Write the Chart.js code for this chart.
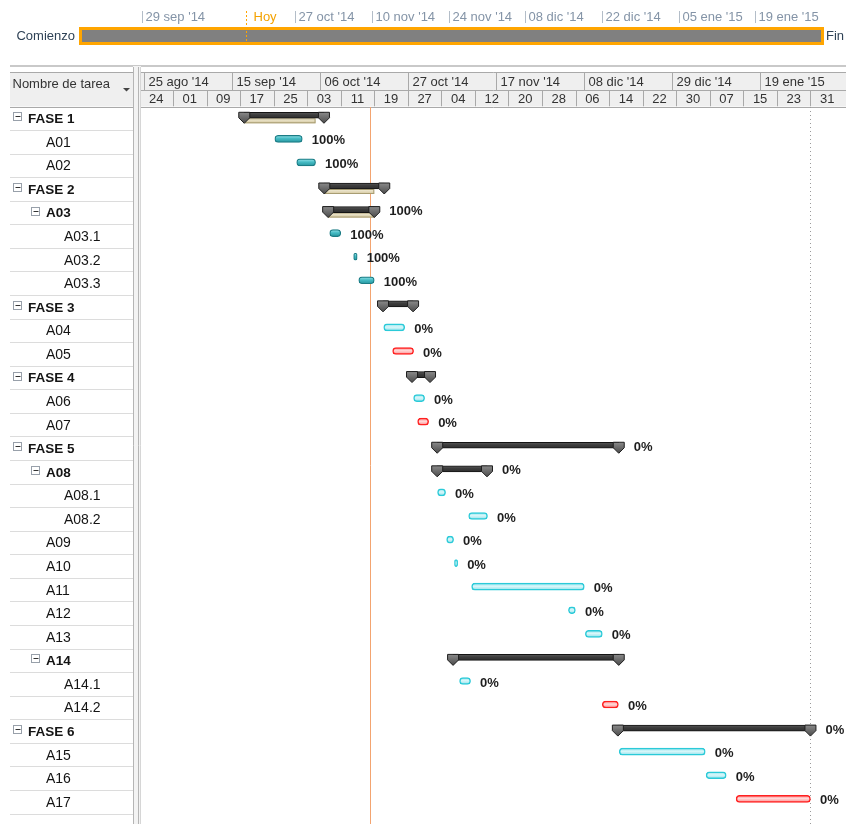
<!DOCTYPE html>
<html>
<head>
<meta charset="utf-8">
<script src="https://cdn.jsdelivr.net/npm/chart.js@4.4.1/dist/chart.umd.min.js"></script>
<style>
  html, body { margin: 0; padding: 0; background: #fff; width: 846px; height: 824px; overflow: hidden; }
  #timeline { position: absolute; left: 0; top: 0; }
  #gantt { position: absolute; left: 0; top: 56px; }
</style>
</head>
<body>
<canvas id="timeline" width="846" height="56"></canvas>
<canvas id="gantt" width="846" height="768"></canvas>
<script>
// ---- Project data ----
const tasks = ['FASE 1','A01','A02','FASE 2','A03','A03.1','A03.2','A03.3','FASE 3','A04','A05',
  'FASE 4','A06','A07','FASE 5','A08','A08.1','A08.2','A09','A10','A11','A12','A13','A14','A14.1',
  'A14.2','FASE 6','A15','A16','A17'];
const levels = [0,1,1,0,1,2,2,2,0,1,1,0,1,1,0,1,2,2,1,1,1,1,1,1,2,2,0,1,1,1];
const isSummary = [true,false,false,true,true,false,false,false,true,false,false,true,false,false,
  true,true,false,false,false,false,false,false,false,true,false,false,true,false,false,false];
const starts = ['2014-09-18T00:00','2014-09-25T07:00','2014-09-30T12:00','2014-10-07T02:00',
  '2014-10-08T00:00','2014-10-08T09:00','2014-10-14T02:00','2014-10-15T07:00','2014-10-21T02:00',
  '2014-10-21T06:00','2014-10-23T09:00','2014-10-28T00:00','2014-10-28T09:00','2014-10-29T08:00',
  '2014-11-03T00:00','2014-11-03T00:00','2014-11-03T02:00','2014-11-10T12:00','2014-11-05T06:00',
  '2014-11-07T03:00','2014-11-11T05:00','2014-12-04T07:00','2014-12-08T08:00','2014-11-06T19:00',
  '2014-11-08T08:00','2014-12-12T09:00','2014-12-16T02:00','2014-12-16T10:00','2015-01-06T03:00',
  '2015-01-13T07:00'];
const ends = ['2014-10-07T00:00','2014-10-01T20:00','2014-10-05T00:00','2014-10-21T09:00',
  '2014-10-19T00:00','2014-10-11T00:00','2014-10-14T22:00','2014-10-19T00:00','2014-10-28T06:00',
  '2014-10-26T06:00','2014-10-28T09:00','2014-11-01T07:00','2014-10-31T00:00','2014-10-31T23:00',
  '2014-12-16T07:00','2014-11-14T21:00','2014-11-05T00:00','2014-11-15T00:00','2014-11-06T22:00',
  '2014-11-07T21:00','2014-12-08T02:00','2014-12-05T23:00','2014-12-12T09:00','2014-12-16T07:00',
  '2014-11-10T23:00','2014-12-16T05:00','2015-01-31T00:00','2015-01-05T22:00','2015-01-10T22:00',
  '2015-01-31T00:00'];
// Summary rows: work completed through this date
const completedThrough = ['2014-10-05T00:00',null,null,'2014-10-19T00:00','2014-10-19T00:00',
  null,null,null,null,null,null,null,null,null,null,null,null,null,null,null,null,null,null,null,
  null,null,null,null,null,null];
// Percent complete shown next to the bar (null = not shown)
const percentDone = [null,100,100,null,100,100,100,100,null,0,0,null,0,0,0,0,0,0,0,0,0,0,0,null,
  0,0,0,0,0,0];
const critical = [false,false,false,false,false,false,false,false,false,false,true,false,false,true,
  false,false,false,false,false,false,false,false,false,false,false,true,false,false,false,true];

const today = '2014-10-18T00:00';
const viewStart = '2014-08-24T09:00';
const viewEnd = '2015-02-08T11:30';

// Timescale header
const upperTierDates = ['2014-08-25','2014-09-15','2014-10-06','2014-10-27','2014-11-17',
  '2014-12-08','2014-12-29','2015-01-19'];
const upperTierLabels = ["25 ago '14","15 sep '14","06 oct '14","27 oct '14","17 nov '14",
  "08 dic '14","29 dic '14","19 ene '15"];
const lowerTierFirst = '2014-08-24';
const lowerTierStepDays = 8;
const lowerTierLabels = ['24','01','09','17','25','03','11','19','27','04','12','20','28','06',
  '14','22','30','07','15','23','31'];

// Overview timeline ticks
const timelineTickDates = ['2014-09-29','2014-10-27','2014-11-10','2014-11-24','2014-12-08',
  '2014-12-22','2015-01-05','2015-01-19'];
const timelineTickLabels = ["29 sep '14","27 oct '14","10 nov '14","24 nov '14","08 dic '14",
  "22 dic '14","05 ene '15","19 ene '15"];

// ---- Helpers ----
function T(s) {
  const [d, h = '00:00'] = s.split('T');
  const [Y, M, D] = d.split('-').map(Number);
  const [hh, mm] = h.split(':').map(Number);
  return Date.UTC(Y, M - 1, D, hh, mm);
}
const DAY = 86400000;
const FONT = '"Liberation Sans", Arial, sans-serif';
Chart.defaults.font.family = FONT;

const projectStart = Math.min(...starts.map(T));
const projectFinish = Math.max(...ends.map(T));

function series(pred) {
  return tasks.map((_, i) => pred(i) ? [T(starts[i]), T(ends[i])] : null);
}

function barGradient(stops, half) {
  return (c) => {
    const ys = c.chart.scales.y;
    if (c.type !== 'data' || !ys) return stops[1];
    const cy = ys.getPixelForValue(c.dataIndex);
    if (!isFinite(cy)) return stops[1];
    const g = c.chart.ctx.createLinearGradient(0, cy - half, 0, cy + half);
    g.addColorStop(0, stops[0]);
    g.addColorStop(0.45, stops[1]);
    g.addColorStop(1, stops[2]);
    return g;
  };
}

// ---- Overview timeline ----
const timelinePlugin = {
  id: 'timelineDecor',
  beforeDraw(chart) {
    const ctx = chart.ctx;
    ctx.save();
    ctx.fillStyle = '#fff';
    ctx.fillRect(0, 0, chart.width, chart.height);
    ctx.restore();
  },
  afterDatasetsDraw(chart) {
    const { ctx, scales: { x } } = chart;
    const el = chart.getDatasetMeta(0).data[0];
    const p = el.getProps(['x', 'base', 'y', 'height'], true);
    ctx.save();
    ctx.strokeStyle = '#ffa500';
    ctx.lineWidth = 3;
    ctx.strokeRect(p.base - 1.5, p.y - p.height / 2 - 1.5, p.x - p.base + 3, p.height + 3);

    ctx.font = '13px ' + FONT;
    ctx.textBaseline = 'middle';
    timelineTickDates.forEach((d, i) => {
      const px = Math.round(x.getPixelForValue(T(d))) + 0.5;
      ctx.strokeStyle = '#b3bdc8';
      ctx.lineWidth = 1;
      ctx.beginPath(); ctx.moveTo(px, 11); ctx.lineTo(px, 23); ctx.stroke();
      ctx.fillStyle = '#8494a7';
      ctx.textAlign = 'left';
      ctx.fillText(timelineTickLabels[i], px + 3, 17.5);
    });

    const tx = Math.round(x.getPixelForValue(T(today))) + 0.5;
    ctx.strokeStyle = '#ffa500';
    ctx.setLineDash([2, 2]);
    ctx.beginPath(); ctx.moveTo(tx, 11); ctx.lineTo(tx, 44); ctx.stroke();
    ctx.setLineDash([]);
    ctx.fillStyle = '#f4a200';
    ctx.fillText('Hoy', tx + 7, 17.5);

    ctx.fillStyle = '#2f4256';
    ctx.textAlign = 'right';
    ctx.fillText('Comienzo', 75, 36);
    ctx.textAlign = 'left';
    ctx.fillText('Fin', 826, 36);
    ctx.restore();
  }
};

new Chart(document.getElementById('timeline'), {
  type: 'bar',
  data: {
    labels: ['Proyecto'],
    datasets: [{
      data: [[projectStart, projectFinish]],
      backgroundColor: '#808080',
      borderWidth: 0,
      barThickness: 12
    }]
  },
  options: {
    indexAxis: 'y',
    responsive: false,
    animation: false,
    devicePixelRatio: 1,
    events: [],
    layout: { padding: { left: 82, right: 25, top: 24, bottom: 8 } },
    plugins: { legend: { display: false }, tooltip: { enabled: false } },
    scales: {
      x: { type: 'linear', min: projectStart, max: projectFinish, display: false },
      y: { display: false }
    }
  },
  plugins: [timelinePlugin]
});

// ---- Gantt view ----
const PAGE_TOP = 56;
const py = v => v - PAGE_TOP;
const ROW_SHIFT = 3;   // bars sit slightly above the row's middle

const ganttPlugin = {
  id: 'ganttDecor',
  beforeDraw(chart) {
    const { ctx, scales: { x, y } } = chart;
    const W = chart.width, H = chart.height;
    const rowH = (y.bottom - y.top) / tasks.length;
    const hTop = py(72), hMid = py(90), hBot = py(106.5);
    ctx.save();
    ctx.fillStyle = '#fff';
    ctx.fillRect(0, 0, W, H);

    // view separator
    ctx.fillStyle = '#c9c9c9';
    ctx.fillRect(10, py(65), W - 10, 2);

    // timescale header
    ctx.fillStyle = '#efefef';
    ctx.fillRect(141, hTop, W - 141, hBot - hTop);
    ctx.strokeStyle = '#a9a9a9';
    ctx.lineWidth = 1;
    [hTop, hMid, hBot].forEach(v => {
      ctx.beginPath(); ctx.moveTo(141, Math.round(v) + 0.5); ctx.lineTo(W, Math.round(v) + 0.5); ctx.stroke();
    });
    ctx.save();
    ctx.beginPath(); ctx.rect(141, hTop, W - 141, hBot - hTop); ctx.clip();
    ctx.font = '13px ' + FONT;
    ctx.fillStyle = '#333';
    ctx.textBaseline = 'middle';
    upperTierDates.forEach((d, i) => {
      const px = Math.round(x.getPixelForValue(T(d))) + 0.5;
      ctx.beginPath(); ctx.moveTo(px, hTop); ctx.lineTo(px, hMid); ctx.stroke();
      ctx.textAlign = 'left';
      ctx.fillText(upperTierLabels[i], px + 4, (hTop + hMid) / 2 + 1);
    });
    const first = T(lowerTierFirst);
    lowerTierLabels.forEach((lab, i) => {
      const a = x.getPixelForValue(first + i * lowerTierStepDays * DAY);
      const b = x.getPixelForValue(first + (i + 1) * lowerTierStepDays * DAY);
      const px = Math.round(a) + 0.5;
      ctx.beginPath(); ctx.moveTo(px, hMid); ctx.lineTo(px, hBot); ctx.stroke();
      ctx.textAlign = 'center';
      ctx.fillText(lab, (a + b) / 2, (hMid + hBot) / 2 + 1);
    });
    ctx.restore();

    // task name column header
    ctx.fillStyle = '#efefef';
    ctx.fillRect(10, hTop, 123, hBot - hTop);
    ctx.strokeStyle = '#a9a9a9';
    ctx.beginPath(); ctx.moveTo(10, Math.round(hTop) + 0.5); ctx.lineTo(133, Math.round(hTop) + 0.5); ctx.stroke();
    ctx.beginPath(); ctx.moveTo(10, Math.round(hBot) + 0.5); ctx.lineTo(133, Math.round(hBot) + 0.5); ctx.stroke();
    ctx.font = '13px ' + FONT;
    ctx.fillStyle = '#333';
    ctx.textAlign = 'left';
    ctx.textBaseline = 'middle';
    ctx.fillText('Nombre de tarea', 12.5, py(84));
    ctx.fillStyle = '#444';
    ctx.beginPath();
    ctx.moveTo(123, py(88)); ctx.lineTo(130, py(88)); ctx.lineTo(126.5, py(91.5)); ctx.closePath();
    ctx.fill();

    // row lines and names
    for (let k = 1; k <= tasks.length; k++) {
      const ly = Math.round(y.top + ROW_SHIFT + k * rowH) + 0.5;
      ctx.strokeStyle = '#dcdcdc';
      ctx.beginPath(); ctx.moveTo(10, ly); ctx.lineTo(133, ly); ctx.stroke();
    }
    tasks.forEach((name, i) => {
      const cy = y.getPixelForValue(i) + ROW_SHIFT;
      const lvl = levels[i];
      const tx = lvl === 0 ? 28 : (lvl === 1 ? 46 : 64);
      if (isSummary[i]) {
        const bx = lvl === 0 ? 13.5 : 31.5;
        const by = Math.round(cy - 6) + 0.5;
        ctx.fillStyle = '#fff';
        ctx.strokeStyle = '#98a0aa';
        ctx.fillRect(bx, by, 8, 8);
        ctx.strokeRect(bx, by, 8, 8);
        ctx.fillStyle = '#333';
        ctx.fillRect(bx + 2, by + 3.5, 5, 1);
      }
      ctx.font = (isSummary[i] ? 'bold 13.5px ' : '14px ') + FONT;
      ctx.fillStyle = '#141414';
      ctx.fillText(name, tx, cy + 1);
    });

    // splitter
    ctx.fillStyle = '#f3f3f3';
    ctx.fillRect(133, py(66), 8, H);
    ctx.strokeStyle = '#b5b5b5';
    [133.5, 138.5].forEach(v => {
      ctx.beginPath(); ctx.moveTo(v, py(67)); ctx.lineTo(v, H); ctx.stroke();
    });
    ctx.strokeStyle = '#d6d6d6';
    ctx.beginPath(); ctx.moveTo(140.5, py(67)); ctx.lineTo(140.5, H); ctx.stroke();
    ctx.restore();
  },

  beforeDatasetsDraw(chart) {
    const { ctx, scales: { x, y } } = chart;
    const H = chart.height;
    const hBot = py(107);
    ctx.save();
    // project finish (dotted)
    const fx = Math.round(x.getPixelForValue(projectFinish)) + 0.5;
    ctx.strokeStyle = '#9a9a9a';
    ctx.setLineDash([1, 3]);
    ctx.beginPath(); ctx.moveTo(fx, hBot); ctx.lineTo(fx, H); ctx.stroke();
    ctx.setLineDash([]);
    // status date
    const tx = Math.round(x.getPixelForValue(T(today))) + 0.5;
    ctx.strokeStyle = '#f3a470';
    ctx.beginPath(); ctx.moveTo(tx, hBot); ctx.lineTo(tx, H); ctx.stroke();

    // summary progress bars
    tasks.forEach((_, i) => {
      if (!isSummary[i] || !completedThrough[i]) return;
      const cy = y.getPixelForValue(i);
      const a = x.getPixelForValue(T(starts[i]));
      const b = x.getPixelForValue(T(completedThrough[i]));
      const g = ctx.createLinearGradient(0, cy + 3, 0, cy + 8);
      g.addColorStop(0, '#f4efdc');
      g.addColorStop(1, '#d4c79e');
      ctx.fillStyle = g;
      ctx.fillRect(a, cy + 3, b - a, 5);
      ctx.strokeStyle = '#a89d73';
      ctx.strokeRect(a + 0.5, cy + 3.5, b - a - 1, 4);
    });
    ctx.restore();
  },

  afterDatasetsDraw(chart) {
    const { ctx, scales: { x, y } } = chart;
    ctx.save();
    // summary end caps
    const meta = chart.getDatasetMeta(0);
    meta.data.forEach((el, i) => {
      if (!isSummary[i]) return;
      const p = el.getProps(['x', 'base', 'y', 'height'], true);
      const top = p.y - p.height / 2;
      [p.base, p.x].forEach(cx => {
        const g = ctx.createLinearGradient(0, top, 0, top + 11);
        g.addColorStop(0, '#8a8a8a');
        g.addColorStop(1, '#4a4a4a');
        ctx.fillStyle = g;
        ctx.strokeStyle = '#1e1e1e';
        ctx.lineWidth = 1;
        ctx.beginPath();
        ctx.moveTo(cx - 5.5, top);
        ctx.lineTo(cx + 5.5, top);
        ctx.lineTo(cx + 5.5, top + 5.5);
        ctx.lineTo(cx, top + 11);
        ctx.lineTo(cx - 5.5, top + 5.5);
        ctx.closePath();
        ctx.fill();
        ctx.stroke();
      });
    });

    // percent complete labels
    ctx.font = 'bold 13px ' + FONT;
    ctx.fillStyle = '#1e1e1e';
    ctx.textAlign = 'left';
    ctx.textBaseline = 'middle';
    tasks.forEach((_, i) => {
      if (percentDone[i] === null) return;
      const cy = y.getPixelForValue(i);
      let ex = x.getPixelForValue(T(ends[i]));
      if (isSummary[i]) ex += 5.5;
      ctx.fillText(percentDone[i] + '%', ex + 9.5, cy + 2);
    });
    ctx.restore();
  }
};

new Chart(document.getElementById('gantt'), {
  type: 'bar',
  data: {
    labels: tasks,
    datasets: [
      {
        label: 'Resumen',
        data: series(i => isSummary[i]),
        backgroundColor: barGradient(['#5a5a5a', '#3c3c3c', '#2e2e2e'], 3),
        borderColor: '#141414',
        borderWidth: 1,
        borderSkipped: false,
        barThickness: 6
      },
      {
        label: 'Completada',
        data: series(i => !isSummary[i] && percentDone[i] === 100),
        backgroundColor: barGradient(['#9ce6ec', '#46bcc5', '#27959e'], 3.5),
        borderColor: '#1b7c85',
        borderWidth: 1.2,
        borderRadius: 3.5,
        borderSkipped: false,
        barThickness: 7
      },
      {
        label: 'Pendiente',
        data: series(i => !isSummary[i] && percentDone[i] < 100 && !critical[i]),
        backgroundColor: barGradient(['#93e3ec', '#d9f7fa', '#8fe0ea'], 3.5),
        borderColor: '#2bcad8',
        borderWidth: 1.5,
        borderRadius: 3.5,
        borderSkipped: false,
        barThickness: 7
      },
      {
        label: 'Crítica',
        data: series(i => !isSummary[i] && percentDone[i] < 100 && critical[i]),
        backgroundColor: barGradient(['#ff8585', '#ffd8d8', '#ff8c8c'], 3.5),
        borderColor: '#ff2020',
        borderWidth: 1.5,
        borderRadius: 3.5,
        borderSkipped: false,
        barThickness: 7
      }
    ]
  },
  options: {
    indexAxis: 'y',
    responsive: false,
    animation: false,
    devicePixelRatio: 1,
    events: [],
    datasets: { bar: { grouped: false } },
    layout: { padding: { left: 141, right: 0, top: 47.5, bottom: 13.4 } },
    plugins: { legend: { display: false }, tooltip: { enabled: false } },
    scales: {
      x: { type: 'linear', min: T(viewStart), max: T(viewEnd), display: false },
      y: { type: 'category', display: false }
    }
  },
  plugins: [ganttPlugin]
});
</script>
</body>
</html>
